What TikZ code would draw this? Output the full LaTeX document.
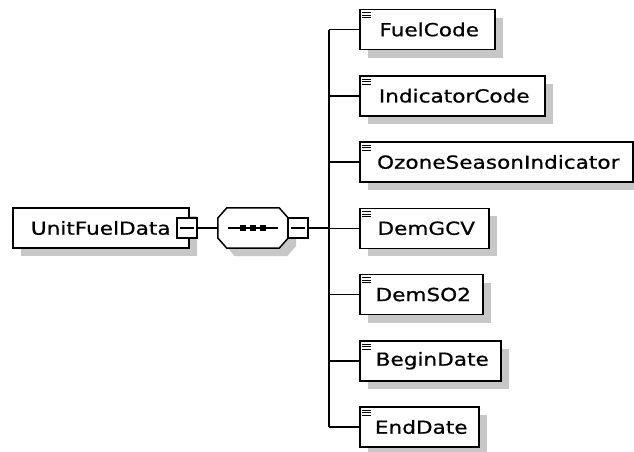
\documentclass[tikz,border=0pt]{standalone}
\usepackage{fontspec}
\setmainfont{DejaVu Sans}[FakeStretch=1.2,FakeBold=0.7]
\usetikzlibrary{calc,shadows}

\tikzset{
  boxshadow/.style={drop shadow={shadow xshift=8pt, shadow yshift=-8pt, fill=black!22, opacity=1}},
  elembox/.style={draw, line width=1.5pt, fill=white, rectangle, minimum height=40pt, inner sep=0pt, anchor=west, boxshadow, font=\fontsize{18}{20}\selectfont},
  seqbox/.style={rectangle, minimum width=70pt, minimum height=40pt, inner sep=0pt},
  minusbox/.style={draw, line width=1.5pt, fill=white, rectangle, minimum size=20pt, inner sep=0pt},
  link/.style={line width=1.5pt}
}

\begin{document}
\begin{tikzpicture}[x=1pt,y=-1pt]
        \useasboundingbox (0,0) rectangle (634,451);
        \node[elembox, minimum width=176pt] (root) at (12,228) {UnitFuelData\hspace{10pt}};
        \node[minusbox] (rootm) at (187,228) {};
        \draw[link] ($(rootm.center)+(-7,0)$) -- ($(rootm.center)+(7,0)$);
        \node[seqbox] (seq) at (253,228) {};
        \draw[link, fill=white, boxshadow] ($(seq.west)+(0,-10)$) -- ($(seq.north west)+(9,0)$)
        -- ($(seq.north east)+(-9,0)$) -- ($(seq.east)+(0,-10)$) -- ($(seq.east)+(0,10)$)
        -- ($(seq.south east)+(-9,0)$) -- ($(seq.south west)+(9,0)$) -- ($(seq.west)+(0,10)$) -- cycle;
        \draw[link] ($(seq.center)+(-25,0)$) -- ($(seq.center)+(25,0)$);
        \foreach \dx in {-10,0,10}{
        \fill ($(seq.center)+(\dx-3,-3)$) rectangle ++(6,6);
        }
        \node[minusbox] (seqm) at (298,228) {};
        \draw[link] ($(seqm.center)+(-7,0)$) -- ($(seqm.center)+(7,0)$);
        \coordinate (bus) at (329,228);
        \draw[link] (rootm.east) -- (seq.west);
        \draw[link] (seqm.east) -- (bus);
        \coordinate (s) at (359,29.5);
        \foreach \name/\w [count=\i] in {FuelCode/135, IndicatorCode/185, OzoneSeasonIndicator/273, DemGCV/129, DemSO2/123, BeginDate/141, EndDate/119}{
        \node[elembox, minimum width=\w pt] (c\i) at (s) {\hspace{4pt}\name};
        \foreach \dy in {4,6.5,9}{
        \draw[line width=1pt] ($(c\i.north west)+(3,\dy)$) -- ++(9,0);
        }
        \draw[link] (bus |- c\i.west) -- (c\i.west);
        \coordinate (s) at ($(s)+(0,66.25)$);
        }
        \draw[link] (bus |- c1.west) -- (bus |- c7.west);
    \end{tikzpicture}
\end{document}
